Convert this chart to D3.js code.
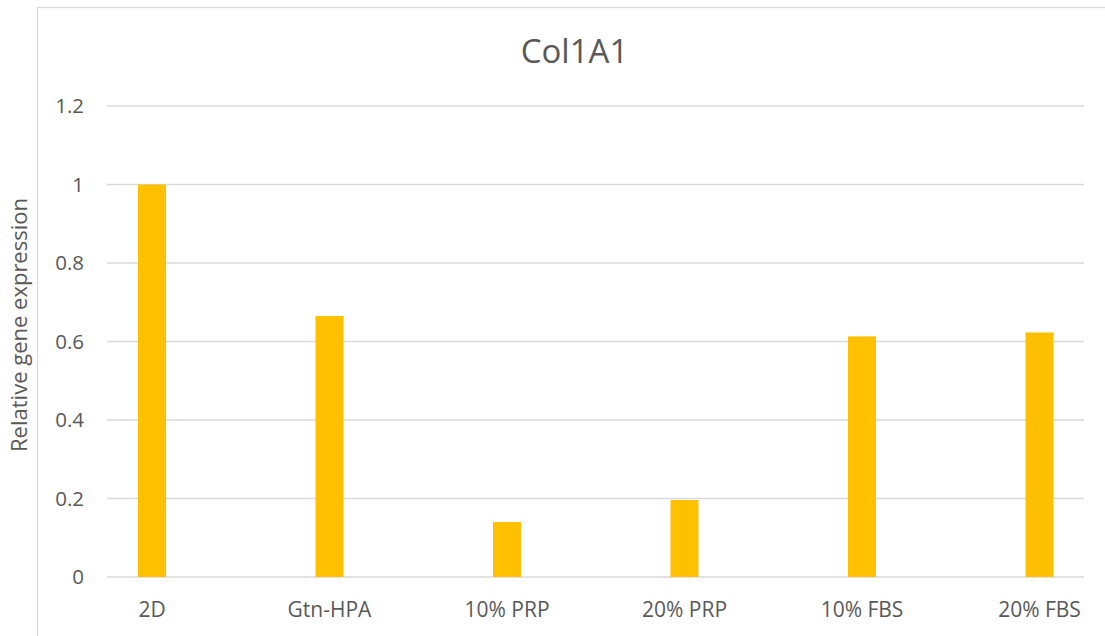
<!DOCTYPE html>
<html>
<head>
<meta charset="utf-8">
<script src="https://cdn.jsdelivr.net/npm/d3@7"></script>
<style>
  body { margin: 0; background: #fff; }
  text { font-family: "Open Sans", "Noto Sans", sans-serif; fill: #595959; }
</style>
</head>
<body>
<div id="chart"></div>
<script>
// Chart data
const categories = ["2D", "Gtn-HPA", "10% PRP", "20% PRP", "10% FBS", "20% FBS"];
const values = [1.0, 0.665, 0.14, 0.196, 0.613, 0.623];
const yTicks = [0, 0.2, 0.4, 0.6, 0.8, 1, 1.2];

const W = 1105, H = 636;

const svg = d3.select("#chart")
    .append("svg")
    .attr("width", W)
    .attr("height", H);

// Outer chart border
svg.append("rect")
    .attr("x", 37.5)
    .attr("y", 7.5)
    .attr("width", W)
    .attr("height", H)
    .attr("fill", "none")
    .attr("stroke", "#d9d9d9")
    .attr("stroke-width", 1.3);

// Scales
const x = d3.scalePoint()
    .domain(categories)
    .range([152, 1039.5]);

const y = d3.scaleLinear()
    .domain([0, 1.2])
    .range([577, 106]);

const gridLeft = 107, gridRight = 1084;
const barWidth = 28;

// Gridlines
svg.append("g")
    .selectAll("line")
    .data(yTicks)
    .enter()
    .append("line")
    .attr("x1", gridLeft)
    .attr("x2", gridRight)
    .attr("y1", (d) => y(d))
    .attr("y2", (d) => y(d))
    .attr("stroke", "#d9d9d9")
    .attr("stroke-width", 1.4);

// Y-axis tick labels
svg.append("g")
    .selectAll("text")
    .data(yTicks)
    .enter()
    .append("text")
    .attr("x", 84)
    .attr("y", (d) => y(d))
    .attr("dy", "0.35em")
    .attr("text-anchor", "end")
    .style("font-size", "20.5px")
    .text((d) => d3.format("~g")(d));

// Bars
svg.selectAll(".bar")
    .data(values)
    .enter()
    .append("rect")
    .attr("class", "bar")
    .attr("x", (d, i) => x(categories[i]) - barWidth / 2)
    .attr("y", (d) => y(d))
    .attr("width", barWidth)
    .attr("height", (d) => y(0) - y(d))
    .attr("fill", "#FFC000");

// Category labels
svg.append("g")
    .selectAll("text")
    .data(categories)
    .enter()
    .append("text")
    .attr("x", (d) => x(d))
    .attr("y", 616.5)
    .attr("text-anchor", "middle")
    .style("font-size", "21px")
    .text((d) => d);

// Title
svg.append("text")
    .attr("x", 574.5)
    .attr("y", 63)
    .attr("text-anchor", "middle")
    .style("font-size", "33px")
    .text("Col1A1");

// Y-axis label
svg.append("text")
    .attr("transform", "translate(27,325) rotate(-90)")
    .attr("text-anchor", "middle")
    .style("font-size", "22px")
    .text("Relative gene expression");
</script>
</body>
</html>
